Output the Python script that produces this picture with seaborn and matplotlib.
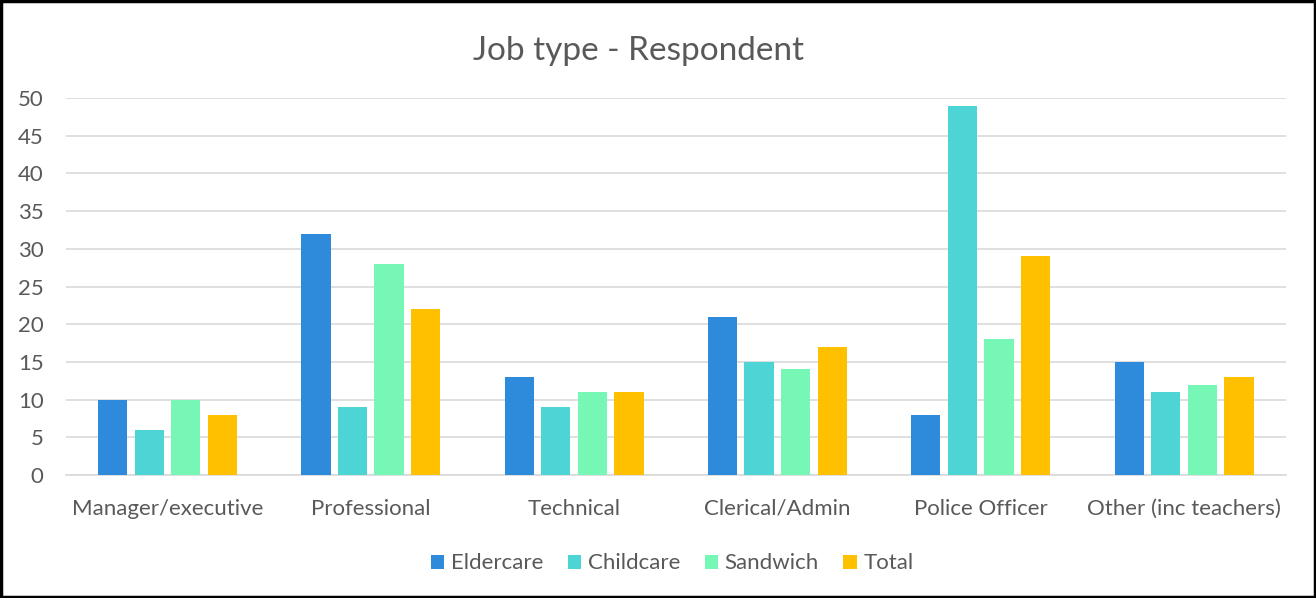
import matplotlib
matplotlib.use("Agg")
import matplotlib.pyplot as plt
import seaborn as sns
import pandas as pd
from matplotlib.patches import Rectangle

categories = ["Manager/executive", "Professional", "Technical", "Clerical/Admin",
              "Police Officer", "Other (inc teachers)"]
series = ["Eldercare", "Childcare", "Sandwich", "Total"]
eldercare = [10, 32, 13, 21, 8, 15]
childcare = [6, 9, 9, 15, 49, 11]
sandwich = [10, 28, 11, 14, 18, 12]
total = [8, 22, 11, 17, 29, 13]
colors = ["#2E8BDB", "#4DD5D5", "#77F7B5", "#FFC000"]
yticks = [0, 5, 10, 15, 20, 25, 30, 35, 40, 45, 50]

rows = []
for name, vals in zip(series, [eldercare, childcare, sandwich, total]):
    for c, v in zip(categories, vals):
        rows.append({"Category": c, "Series": name, "Value": v})
df = pd.DataFrame(rows)

sns.set_theme(style="white")
plt.rcParams["font.family"] = ["Lato", "DejaVu Sans"]
text_color = "#595959"

fig = plt.figure(figsize=(13.16, 5.98), dpi=100)
ax = fig.add_axes([0.050, 0.2057, 0.927, 0.6304])

sns.barplot(data=df, x="Category", y="Value", hue="Series", order=categories,
            hue_order=series, palette=colors, width=0.72, gap=0.2,
            saturation=1, ax=ax, legend=True, zorder=3, linewidth=0,
            edgecolor="none")

ax.set_ylim(0, 50)
ax.set_xlim(-0.5, 5.5)
ax.set_yticks(yticks)
ax.yaxis.grid(True, color="#D9D9D9", linewidth=1.2, zorder=0)
ax.set_axisbelow(True)
for s in ["top", "right", "left"]:
    ax.spines[s].set_visible(False)
ax.spines["bottom"].set_color("#D9D9D9")
ax.spines["bottom"].set_linewidth(1.2)
ax.set_xlabel("")
ax.set_ylabel("")
ax.tick_params(axis="both", length=0, colors=text_color, labelsize=16)
ax.tick_params(axis="x", pad=17)
ax.tick_params(axis="y", pad=16)
for lbl in ax.get_yticklabels():
    lbl.set_horizontalalignment("right")

fig.text(0.485, 0.915, "Job type - Respondent", fontsize=24, color=text_color,
         ha="center", va="center")

leg = ax.legend(loc="upper center", bbox_to_anchor=(0.497, -0.155), ncol=4,
                frameon=False, fontsize=16, handlelength=0.6, handleheight=0.6,
                columnspacing=1.1, handletextpad=0.3)
for t in leg.get_texts():
    t.set_color(text_color)

fig.patches.append(Rectangle((0.001, 0.002), 0.998, 0.996, transform=fig.transFigure,
                             fill=False, edgecolor="black", linewidth=2.5))

fig.savefig("out.png", dpi=100, facecolor="white")
